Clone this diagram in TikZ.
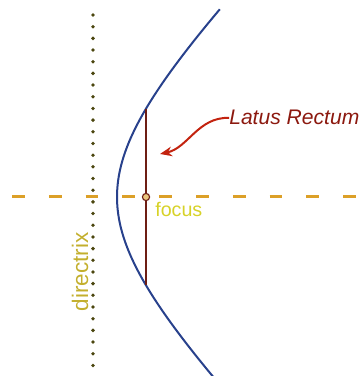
\documentclass[tikz,border=0pt]{standalone}
\usepackage{fontspec}
\setmainfont{Liberation Sans}
\usepackage{tikz}
\usetikzlibrary{arrows.meta,positioning}
\definecolor{curveBlue}  {RGB}{ 40,  65, 140}
\definecolor{axisOrange} {RGB}{220, 160,  40}
\definecolor{dirOlive}   {RGB}{ 75,  70,  15}
\definecolor{dirYellow}  {RGB}{195, 175,  45}
\definecolor{focYellow}  {RGB}{215, 210,  40}
\definecolor{latusBrown} {RGB}{110,  30,  20}
\definecolor{lblRed}     {RGB}{140,  25,  15}
\definecolor{arrRed}     {RGB}{195,  35,  15}

\begin{document}
\begin{tikzpicture}[x=0.25mm,y=0.25mm,
          lbl/.style={inner sep=0pt,font=\fontsize{14}{16}\selectfont},
          focdot/.style={circle,draw=latusBrown,fill=axisOrange!60,
                         minimum size=1.8mm,inner sep=0pt,line width=0.8pt},
        ]
        \useasboundingbox (0,0) rectangle (362,376);

        % DIRECTRIX
        \draw[dirOlive,line width=0.95mm,line cap=round,
              dash pattern=on 0pt off 2.92mm] (93,361)--(93,0);
        \node[lbl,dirYellow,rotate=90,font=\fontsize{16}{18}\selectfont]
          (dir) at (80,104) {directrix};

        % AXIS
        \draw[axisOrange,line width=0.75mm,dash pattern=on 3.2mm off 6mm,
              dash phase=6.2mm] (0,179)--(362,179);

        % PARABOLA
        \draw[curveBlue,line width=0.5mm] plot[domain=-1.24:1.23,samples=80,smooth]
          ({117+120*(cosh(\x)-1)},{179+120*sinh(\x)});

        % LATUS RECTUM
        \coordinate (LRtop) at (146,267);
        \coordinate (LRbot) at (146,91);
        \draw[latusBrown,line width=0.4mm] (LRtop)--(LRbot);
        \node[focdot] (F) at (146,179) {};
        \node[lbl,focYellow,anchor=base west] (foc) at (155,159) {focus};

        \node[lbl,lblRed,anchor=base west,font=\fontsize{15}{17}\selectfont\itshape]
          (lr) at (229,251) {Latus Rectum};
        \coordinate (tip) at (160,222);
        \draw[-{Stealth[length=3mm,width=2.4mm]},arrRed,line width=0.5mm]
          (lr.west) .. controls (198,259) and (188,228) .. (tip);
      \end{tikzpicture}
\end{document}
